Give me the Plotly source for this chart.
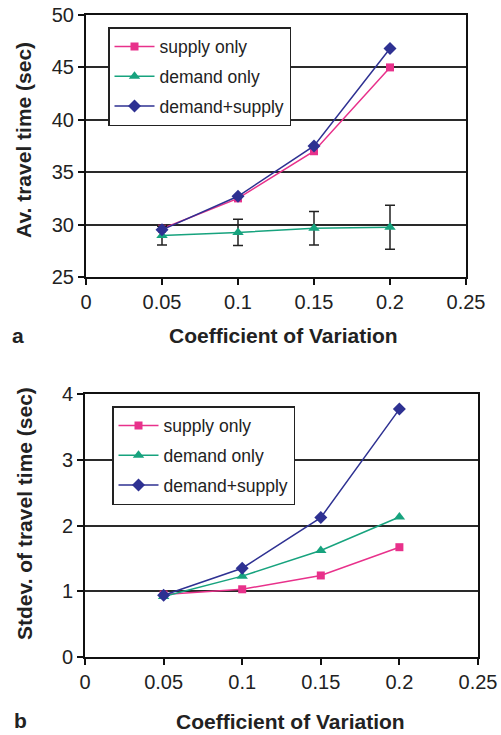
import plotly.graph_objects as go

cv = [0.05, 0.1, 0.15, 0.2]

# panel a: average travel time (sec)
avg_supply = [29.6, 32.5, 37.0, 45.0]
avg_demand = [28.95, 29.25, 29.65, 29.75]
avg_demand_err = [0.9, 1.25, 1.6, 2.1]
avg_both = [29.5, 32.7, 37.5, 46.8]

# panel b: stdev of travel time (sec)
sd_supply = [0.95, 1.03, 1.24, 1.67]
sd_demand = [0.92, 1.23, 1.62, 2.13]
sd_both = [0.94, 1.35, 2.12, 3.77]

names = ["supply only", "demand only", "demand+supply"]
x_title = "Coefficient of Variation"
y_title_a = "Av. travel time (sec)"
y_title_b = "Stdev. of travel time (sec)"

PINK = "#E8318B"
GREEN = "#17A37E"
BLUE = "#2E3192"
INK = "#222222"
FONT = "Liberation Sans, Arial, sans-serif"

W, H = 501, 735


def px_x(p):
    return p / W


def px_y(p):
    return 1 - p / H


fig = go.Figure()


def add_series(y, name, color, symbol, size, xa, ya, legend, group, err=None):
    tr = go.Scatter(
        x=cv, y=y, name=name, mode="lines+markers",
        line=dict(color=color, width=1.5),
        marker=dict(color=color, symbol=symbol, size=size),
        xaxis=xa, yaxis=ya, legend=legend, legendgroup=group,
    )
    if err is not None:
        tr.error_y = dict(type="data", array=err, visible=True,
                          color=INK, thickness=1.5, width=5)
    fig.add_trace(tr)


add_series(avg_supply, names[0], PINK, "square", 8, "x", "y", "legend", "a1")
add_series(avg_demand, names[1], GREEN, "triangle-up", 10, "x", "y", "legend", "a2", err=avg_demand_err)
add_series(avg_both, names[2], BLUE, "diamond", 10, "x", "y", "legend", "a3")

add_series(sd_supply, names[0], PINK, "square", 8, "x2", "y2", "legend2", "b1")
add_series(sd_demand, names[1], GREEN, "triangle-up", 10, "x2", "y2", "legend2", "b2")
add_series(sd_both, names[2], BLUE, "diamond", 10, "x2", "y2", "legend2", "b3")

axis_common = dict(
    showline=True, linecolor="#111111", linewidth=2, mirror=True,
    ticks="outside", ticklen=6, tickcolor="#111111", tickwidth=1.5,
    tickfont=dict(family=FONT, size=20, color=INK),
    zeroline=False, automargin=False, ticklabeloverflow="allow",
)

legend_common = dict(
    xanchor="left", yanchor="top",
    bgcolor="white", bordercolor=INK, borderwidth=1.5,
    font=dict(family=FONT, size=17.5, color=INK),
    tracegroupgap=4, itemwidth=40,
)

fig.update_layout(
    width=W, height=H,
    margin=dict(l=0, r=0, t=0, b=0),
    paper_bgcolor="white", plot_bgcolor="white",
    font=dict(family=FONT),
    xaxis=dict(domain=[px_x(86), px_x(466)], range=[0, 0.25], dtick=0.05,
               tick0=0, showgrid=False, anchor="y", **axis_common),
    yaxis=dict(domain=[px_y(277), px_y(15)], range=[25, 50], dtick=5,
               showgrid=True, gridcolor="#2a2a2a", gridwidth=1.5, anchor="x",
               **axis_common),
    xaxis2=dict(domain=[px_x(85), px_x(478)], range=[0, 0.25], dtick=0.05,
                tick0=0, showgrid=False, anchor="y2", **axis_common),
    yaxis2=dict(domain=[px_y(657), px_y(394)], range=[0, 4], dtick=1,
                showgrid=True, gridcolor="#2a2a2a", gridwidth=1.5, anchor="x2",
                **axis_common),
    legend=dict(x=px_x(108), y=px_y(27), **legend_common),
    legend2=dict(x=px_x(112), y=px_y(406), **legend_common),
    showlegend=True,
)

bold = dict(family=FONT, size=21, color=INK, weight="bold")

# x-axis titles
for cx, cy in ((283, 336), (290, 721)):
    fig.add_annotation(text=x_title, x=px_x(cx), y=px_y(cy), xref="paper", yref="paper",
                       showarrow=False, xanchor="center", yanchor="middle", font=bold)

# y-axis titles
for txt, cx, cy in ((y_title_a, 23, 140), (y_title_b, 24, 514)):
    fig.add_annotation(text=txt, x=px_x(cx), y=px_y(cy), xref="paper", yref="paper",
                       showarrow=False, xanchor="center", yanchor="middle",
                       textangle=-90, font=bold)

# panel letters
for label, cx, cy in (("a", 18, 335), ("b", 20, 720)):
    fig.add_annotation(text=label, x=px_x(cx), y=px_y(cy), xref="paper", yref="paper",
                       showarrow=False, xanchor="center", yanchor="middle", font=bold)

fig.write_html(
    "out.html",
    config={"displayModeBar": False},
    post_script="document.body.style.margin='0';document.body.style.overflow='hidden';",
)
